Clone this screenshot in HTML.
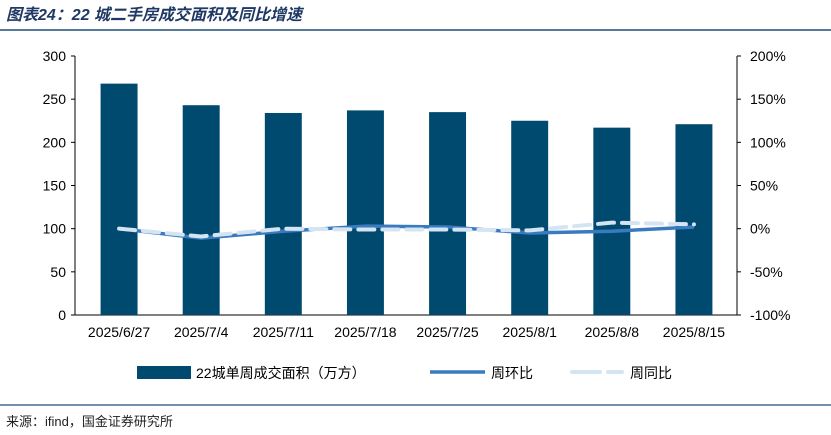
<!DOCTYPE html>
<html><head><meta charset="utf-8"><style>
body{margin:0;background:#fff;font-family:"Liberation Sans","Noto Sans CJK SC",sans-serif;}
</style></head><body>
<svg width="831" height="435" xmlns="http://www.w3.org/2000/svg" style="display:block">
<text x="6" y="20" font-size="16" font-weight="bold" font-style="italic" fill="#1f3864" font-family="'Liberation Sans','Noto Sans CJK SC',sans-serif">图表24：22 城二手房成交面积及同比增速</text>
<line x1="0" y1="30" x2="831" y2="30" stroke="#1f4e79" stroke-width="1.5"/>
<g id="plot"></g>
<line x1="0" y1="405" x2="831" y2="405" stroke="#1f4e79" stroke-width="1.2"/>
<text x="6" y="426" font-size="13" fill="#222">来源：ifind，国金证券研究所</text>
</svg>
<script>
const categories=["2025/6/27","2025/7/4","2025/7/11","2025/7/18","2025/7/25","2025/8/1","2025/8/8","2025/8/15"];
const areaValues=[268,243,234,237,235,225,217,221];
const wowValues=[0,-11,-3,3,2,-5,-3,2];
const yoyValues=[0,-9,0,-1,-1,-2,7,5];
const leftTicks=[0,50,100,150,200,250,300];
const rightTicks=[-100,-50,0,50,100,150,200];
const NS="http://www.w3.org/2000/svg";
const g=document.getElementById('plot');
const X0=78,X1=735,Y0=315,Y1=56;
const band=(X1-X0)/categories.length;
const xc=i=>X0+band*(i+0.5);
const yL=v=>Y0-(v/300)*(Y0-Y1);
const yR=v=>Y0-((v+100)/300)*(Y0-Y1);
function mk(t,a){const e=document.createElementNS(NS,t);for(const k in a)e.setAttribute(k,a[k]);g.appendChild(e);return e;}
let e;
e=mk('line',{x1:X0-3,y1:Y1,x2:X0-3,y2:Y0,stroke:'#000','stroke-width':1});


e=mk('line',{x1:X1+2,y1:Y1,x2:X1+2,y2:Y0,stroke:'#000','stroke-width':1});


e=mk('line',{x1:X0-3,y1:Y0,x2:X1+2,y2:Y0,stroke:'#000','stroke-width':1});


leftTicks.forEach(v=>{
 e=mk('text',{x:X0-12,y:yL(v)+5,'text-anchor':'end','font-size':14,fill:'#000'});e.textContent=v;
 
 
 e=mk('line',{x1:X0-7,y1:yL(v),x2:X0-3,y2:yL(v),stroke:'#000'});
 
 
});
rightTicks.forEach(v=>{
 e=mk('text',{x:X1+15,y:yR(v)+5,'font-size':14,fill:'#000'});e.textContent=v+'%';
 
 
 e=mk('line',{x1:X1+2,y1:yR(v),x2:X1+6,y2:yR(v),stroke:'#000'});
 
 
});
const bw=band*0.45;
areaValues.forEach((v,i)=>{
 e=mk('rect',{x:xc(i)-bw/2,y:yL(v),width:bw,height:Y0-yL(v),fill:'#004a70'});
 
 
 e=mk('text',{x:xc(i),y:Y0+22,'text-anchor':'middle','font-size':14,fill:'#000'});e.textContent=categories[i];
 
 
});
e=mk('polyline',{points:wowValues.map((v,i)=>xc(i)+','+yR(v)).join(' '),fill:'none',stroke:'#3a7bbf','stroke-width':3.5,'stroke-linejoin':'round'});


e=mk('polyline',{points:yoyValues.map((v,i)=>xc(i)+','+yR(v)).join(' '),fill:'none',stroke:'#d4e4f3','stroke-width':4,'stroke-dasharray':'16 8','stroke-linecap':'round'});


// legend
e=mk('rect',{x:137,y:366,width:54,height:13,fill:'#004a70'});


e=mk('text',{x:196,y:378,'font-size':14,fill:'#000'});e.textContent='22城单周成交面积（万方）';


e=mk('line',{x1:430,y1:372,x2:485,y2:372,stroke:'#3a7bbf','stroke-width':3.5});


e=mk('text',{x:491,y:378,'font-size':14,fill:'#000'});e.textContent='周环比';


e=mk('line',{x1:572,y1:372,x2:622,y2:372,stroke:'#d4e4f3','stroke-width':4,'stroke-dasharray':'28 8','stroke-linecap':'round'});


e=mk('text',{x:630,y:378,'font-size':14,fill:'#000'});e.textContent='周同比';


</script>
</body></html>
